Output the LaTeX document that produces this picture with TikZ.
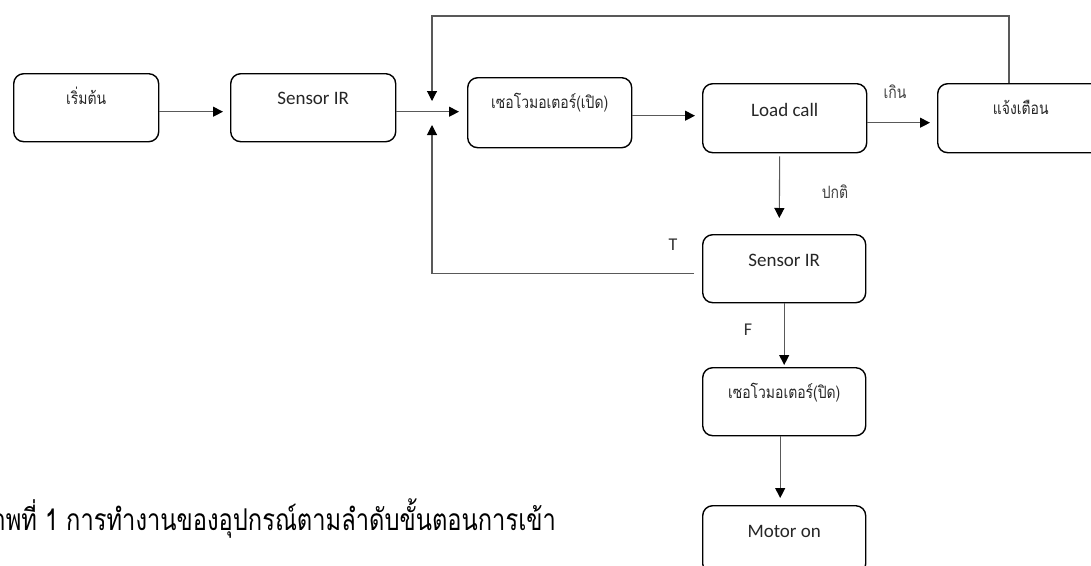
\documentclass[tikz,border=0pt]{standalone}
\usepackage{fontspec}
\setmainfont{Carlito}
\newfontfamily\thaifont[Script=Thai]{Loma}
\newfontfamily\thaiboxfont[Script=Thai, FakeStretch=0.82]{Loma}
\newfontfamily\capfont[Script=Thai, FakeStretch=0.79]{Loma}
\usetikzlibrary{arrows.meta}
\tikzset{
  stepbox/.style={draw=black, line width=1.4pt, rounded corners=10pt,
    inner xsep=0pt, inner ysep=0pt, text height=31pt, text depth=37pt,
    anchor=north west, align=center, text=black!85,
    font=\fontsize{19}{22}\selectfont},
  thaitxt/.style={font=\fontsize{17}{20}\selectfont\thaiboxfont},
  conn/.style={draw=black!65, line width=1.1pt,
    -{Triangle[length=10pt,width=10pt,color=black,fill=black]}},
  lbl/.style={font=\fontsize{18}{21}\selectfont, text=black!80, inner sep=0pt},
  thailbl/.style={font=\fontsize{17}{20}\selectfont\thaiboxfont, text=black!75, inner sep=0pt},
}
\begin{document}
\begin{tikzpicture}[x=1pt,y=-1pt]
\useasboundingbox (0,0) rectangle (1091,565);
\fill[white] (0,0) rectangle (1091,565);

\node[stepbox, thaitxt, minimum width=145pt] (b1) at (13,73) {เริ่มต้น};
\node[stepbox, minimum width=165pt] (b2) at (230,73) {Sensor IR};
\node[stepbox, thaitxt, minimum width=164pt, text depth=39pt] (b3) at (467,77) {เซอโวมอเตอร์(เปิด)};
\node[stepbox, minimum width=164pt, text height=33pt, text depth=36pt] (b4) at (702,83) {Load call};
\node[stepbox, thaitxt, minimum width=166pt, text depth=38pt] (b5) at (937,83) {แจ้งเตือน};
\node[stepbox, minimum width=163pt, text height=32pt, text depth=36pt] (b6) at (702,234) {Sensor IR};
\node[stepbox, thaitxt, minimum width=163pt] (b7) at (702,367) {เซอโวมอเตอร์(ปิด)};
\node[stepbox, minimum width=163pt, text height=32pt, text depth=36pt] (b8) at (702,505) {Motor on};

\coordinate (jt) at (432,101);
\coordinate (jb) at (432,125);
\coordinate (topc) at (1009,16);

% main flow
\draw[conn, shorten >=7pt] ([yshift=-4pt]b1.east) -- ([yshift=-4pt]b2.west);
\draw[conn, shorten >=8pt] ([yshift=-4pt]b2.east) -- ([yshift=-4pt]b2.east -| b3.west);
\draw[conn, shorten >=7pt] ([yshift=-3pt]b3.east) -- ([yshift=-3pt]b3.east -| b4.west);
\draw[conn, shorten >=7pt] ([yshift=-4.5pt]b4.east) -- ([yshift=-4.5pt]b4.east -| b5.west);
\draw[conn, shorten <=3pt, shorten >=16pt] ([xshift=-5pt]b4.south) -- ([xshift=-5pt]b6.north);
\draw[conn, shorten >=2pt] (b6.south) -- (b7.north);
\draw[conn, shorten >=7pt] ([xshift=-4pt]b7.south) -- ([xshift=-4pt]b8.north);

% feedback loops
\draw[conn] (b5.north -| topc) -- (topc) -| (jt);
\draw[conn] ([xshift=-8pt,yshift=-5pt]b6.west) -| (jb);

% labels
\node[thailbl] (lgoen) at (895,92) {เกิน};
\node[thailbl] (lnorm) at (835,192) {ปกติ};
\node[lbl] (lt) at (673,245) {T};
\node[lbl] (lf) at (748,330) {F};

% caption
\node[anchor=base east, inner sep=0pt, font=\fontsize{30}{36}\selectfont\capfont, text=black] (cap) at (556,530)
  {ภาพที่ 1 การทำงานของอุปกรณ์ตามลำดับขั้นตอนการเข้า};
\end{tikzpicture}
\end{document}
